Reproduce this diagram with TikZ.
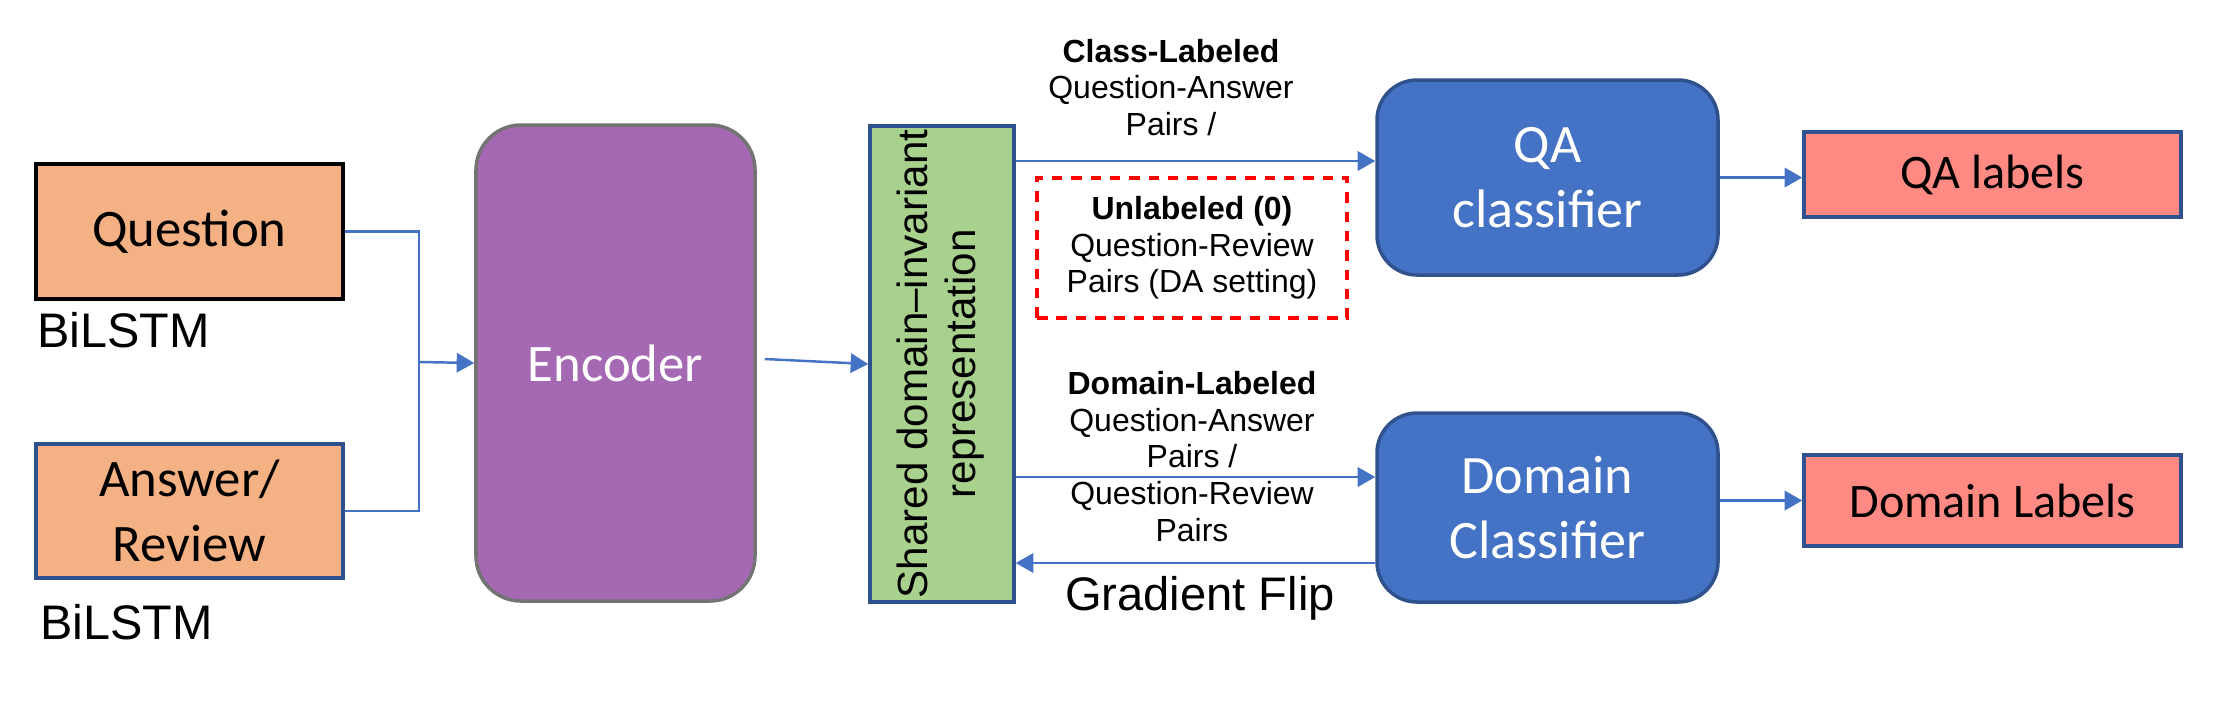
\documentclass[tikz,border=0pt]{standalone}
\usepackage{fontspec}
\setmainfont{Liberation Sans}
\newfontfamily\calibri{Carlito}
\usepackage{xcolor}
\usepackage{tikz}
\usetikzlibrary{arrows.meta}

\definecolor{boxorange}{HTML}{F4B183}
\definecolor{encpurple}{HTML}{A569B4}
\definecolor{sharedgreen}{HTML}{A9D18E}
\definecolor{clsblue}{HTML}{4472C4}
\definecolor{edgeblue}{HTML}{2F528F}
\definecolor{labelred}{HTML}{FF8A84}

\begin{document}
\begin{tikzpicture}[
    inblock/.style={rectangle, draw=edgeblue, fill=boxorange, line width=1pt, minimum width=3.07cm, minimum height=1.35cm, align=center, font=\calibri\fontsize{15}{18.5}\selectfont},
    encblock/.style={rectangle, draw=black!55, fill=encpurple, line width=1pt, rounded corners=0.45cm, minimum width=2.79cm, minimum height=4.76cm, text=white, font=\calibri\fontsize{15}{18.5}\selectfont},
    sharedblock/.style={rectangle, draw=edgeblue, fill=sharedgreen, line width=1pt, minimum width=1.44cm, minimum height=4.76cm, inner sep=0pt, font=\fontsize{12}{13.6}\selectfont},
    clsblock/.style={rectangle, draw=edgeblue, fill=clsblue, line width=1pt, rounded corners=0.4cm, minimum width=3.41cm, text=white, align=center, font=\calibri\fontsize{15.4}{18.5}\selectfont},
    outblock/.style={rectangle, draw=edgeblue, fill=labelred, line width=1pt, minimum width=3.77cm, font=\calibri\fontsize{13.7}{16}\selectfont},
    notetext/.style={align=center, font=\fontsize{9.1}{10.4}\selectfont},
    dashbox/.style={rectangle, draw=red, dash pattern=on 3pt off 2.5pt, line width=1pt, minimum width=3.1cm, minimum height=1.4cm},
    link/.style={draw=clsblue, line width=0.7pt},
    arrow/.style={draw=clsblue, line width=0.7pt, -{Triangle[length=5pt, width=5.5pt]}}]

    \useasboundingbox (0,0) rectangle (22.14,7);

    % inputs
    \node [inblock, draw=black] (question) at (1.895,4.685) {Question};
    \node [inblock, minimum height=1.34cm] (answer) at (1.895,1.89) {Answer/\\Review};
    \node [anchor=west, font=\fontsize{13.8}{15}\selectfont] (bilstmq) at (0.25,3.70) {BiLSTM};
    \node [anchor=west, font=\fontsize{13.8}{15}\selectfont] (bilstma) at (0.28,0.78) {BiLSTM};

    \node [encblock] (encoder) at (6.155,3.37) {Encoder};

    \node [sharedblock] (shared) at (9.42,3.36) {\rotatebox{90}{\begin{tabular}{@{}c@{}}Shared domain--invariant\\representation\end{tabular}}};

    % classifiers and outputs
    \node [clsblock, minimum height=1.95cm] (qa) at (15.475,5.225) {QA\\classifier};
    \node [clsblock, minimum height=1.89cm] (domain) at (15.475,1.925) {Domain\\Classifier};
    \node [outblock, minimum height=0.85cm] (qalabels) at (19.925,5.255) {QA labels};
    \node [outblock, minimum height=0.91cm] (domlabels) at (19.925,1.995) {Domain Labels};

    % edge texts
    \node [notetext] (classnote) at (11.71,6.125) {\textbf{Class-Labeled}\\Question-Answer\\Pairs /};
    \node [dashbox, notetext] (unlabeled) at (11.92,4.52) {\textbf{Unlabeled (0)}\\Question-Review\\Pairs (DA setting)};
    \node [notetext] (domnote) at (11.92,2.435) {\textbf{Domain-Labeled}\\Question-Answer\\Pairs /\\Question-Review\\Pairs};
    \node [font=\fontsize{13.4}{15}\selectfont] (gradflip) at (12.0,1.02) {Gradient Flip};

    \coordinate (merge) at (4.19,3.38);

    \draw [link] (question.east) -| (merge) |- (answer.east);
    \draw [arrow] (merge) -- (encoder.west);
    \draw [arrow] ([xshift=0.8mm, yshift=0.4mm]encoder.east) -- (shared.west);
    \draw [arrow] ([yshift=1.65mm]qa.west -| shared.east) -- ([yshift=1.65mm]qa.west);
    \draw [arrow] ([yshift=3.05mm]domain.west -| shared.east) -- ([yshift=3.05mm]domain.west);
    \draw [arrow] ([yshift=-5.55mm]domain.west) -- ([yshift=-5.55mm]domain.west -| shared.east);
    \draw [arrow] (qa.east) -- (qa.east -| qalabels.west);
    \draw [arrow] (domain.east |- domlabels.west) -- (domlabels.west);

\end{tikzpicture}
\end{document}
